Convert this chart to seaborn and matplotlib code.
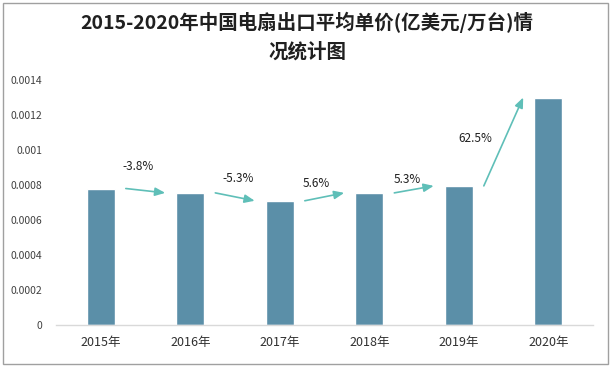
import numpy as np
import pandas as pd
import matplotlib
matplotlib.use('Agg')
import matplotlib.pyplot as plt
from matplotlib.patches import Rectangle
import seaborn as sns

years = ['2015年', '2016年', '2017年', '2018年', '2019年', '2020年']
price = [0.00078, 0.000755, 0.00071, 0.000755, 0.000795, 0.0013]
growth = ['-3.8%', '-5.3%', '5.6%', '5.3%', '62.5%']

df = pd.DataFrame({'year': years, 'price': price})

sns.set_style('white')
plt.rcParams['font.family'] = ['Noto Sans CJK SC', 'DejaVu Sans']

fig = plt.figure(figsize=(6.14, 3.67), dpi=100)
ax = fig.add_axes([0.0912, 0.1144, 0.8746, 0.6676])

sns.barplot(data=df, x='year', y='price', color='#5b8fa8', saturation=1,
            width=0.31, ax=ax)

ax.set_ylim(0, 0.0014)
ax.set_yticks(np.arange(0, 0.00141, 0.0002))
ax.set_yticklabels(['0', '0.0002', '0.0004', '0.0006', '0.0008', '0.001', '0.0012', '0.0014'])
ax.tick_params(axis='y', labelsize=7.5, colors='#404040', length=0, pad=10)
ax.tick_params(axis='x', labelsize=9, colors='#303030', length=0, pad=8)
ax.set_xlabel('')
ax.set_ylabel('')
for s in ['left', 'right', 'top']:
    ax.spines[s].set_visible(False)
ax.spines['bottom'].set_color('#d9d9d9')
ax.spines['bottom'].set_linewidth(1)

# growth arrows between bars
offsets = [(-5, 17.5), (2, 13.5), (-6, 9.5), (-5, 7), (-20, 2)]
for i, lab in enumerate(growth):
    x0, y0 = i + 0.28, price[i]
    x1, y1 = i + 0.72, price[i + 1]
    ax.annotate('', xy=(x1, y1), xytext=(x0, y0),
                arrowprops=dict(arrowstyle='-|>,head_length=0.6,head_width=0.25',
                                color='#5fbfb8', lw=1.2, shrinkA=0, shrinkB=0))
    mx, my = (x0 + x1) / 2, (y0 + y1) / 2
    ax.annotate(lab, xy=(mx, my), xytext=offsets[i], textcoords='offset points',
                ha='center', va='center', fontsize=8.5, color='#202020')

fig.text(0.5, 0.94, '2015-2020年中国电扇出口平均单价(亿美元/万台)情', fontsize=14,
         fontweight='semibold', ha='center', va='center', color='#202020')
fig.text(0.5, 0.86, '况统计图', fontsize=14, fontweight='semibold',
         ha='center', va='center', color='#202020')

fig.patches.append(Rectangle((0.005, 0.008), 0.985, 0.984, transform=fig.transFigure,
                             fill=False, edgecolor='#a0a0a0', lw=1))

fig.savefig('out.png', dpi=100)
